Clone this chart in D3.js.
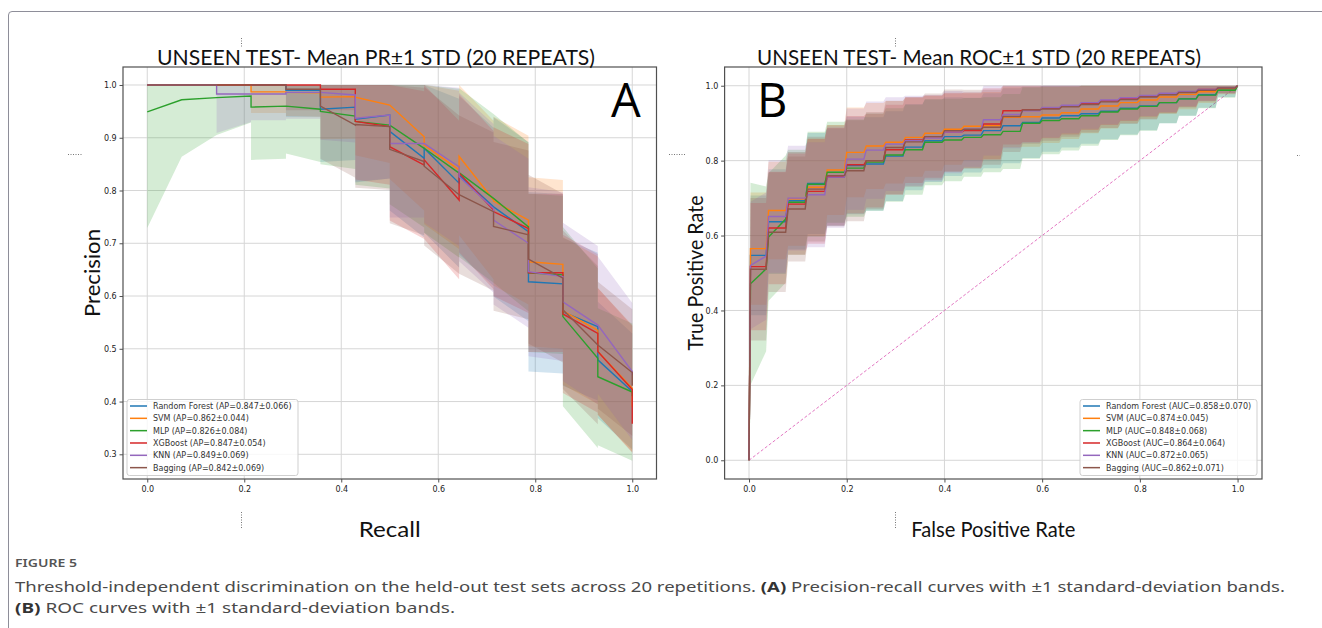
<!DOCTYPE html>
<html>
<head>
<meta charset="utf-8">
<script src="https://cdn.jsdelivr.net/npm/d3@7"></script>
<style>
  body { margin: 0; background: #fff; }
</style>
</head>
<body>
<div id="container"></div>
<script>
// ---- data ----
const models = ["Random Forest", "SVM", "MLP", "XGBoost", "KNN", "Bagging"];
const colors = ["#1f77b4", "#ff7f0e", "#2ca02c", "#d62728", "#9467bd", "#8c564b"];
const apText = ["AP=0.847±0.066", "AP=0.862±0.044", "AP=0.826±0.084", "AP=0.847±0.054", "AP=0.849±0.069", "AP=0.842±0.069"];
const aucText = ["AUC=0.858±0.070", "AUC=0.874±0.045", "AUC=0.848±0.068", "AUC=0.864±0.064", "AUC=0.872±0.065", "AUC=0.862±0.071"];

const tickX = [0, 0.2, 0.4, 0.6, 0.8, 1.0];
const tickPR = [0.3, 0.4, 0.5, 0.6, 0.7, 0.8, 0.9, 1.0];
const tickROC = [0, 0.2, 0.4, 0.6, 0.8, 1.0];

// PR: recall breakpoints (14 positives), mean precision per segment [start, end], std per segment
const prRecall = [0, 0.071, 0.143, 0.214, 0.286, 0.357, 0.429, 0.5, 0.571, 0.643, 0.714, 0.786, 0.857, 0.929, 1.0];
const prRF  = [1, 1, 1, 1, 0.99, [0.954, 0.958], [0.935, 0.943], [0.912, 0.861], [0.88, 0.814], [0.829, 0.769], [0.769, 0.722], [0.627, 0.623], [0.57, 0.542], [0.479, 0.419]];
const prSVM = [1, 1, 1, 0.987, [0.986, 0.985], [0.977, 0.978], [0.977, 0.962], [0.962, 0.902], [0.886, 0.839], [0.865, 0.782], [0.78, 0.744], [0.665, 0.66], [0.572, 0.535], [0.495, 0.425]];
const prMLP = [[0.949, 0.972], [0.972, 0.976], [0.976, 0.979], [0.958, 0.96], [0.96, 0.954], [0.95, 0.941], [0.931, 0.924], [0.924, 0.88], [0.88, 0.833], [0.834, 0.785], [0.785, 0.731], [0.644, 0.64], [0.561, 0.482], [0.447, 0.418]];
const prXGB = [1, 1, 1, 1, 1, 0.992, [0.931, 0.921], [0.883, 0.848], [0.858, 0.782], [0.833, 0.763], [0.76, 0.728], [0.644, 0.644], [0.566, 0.529], [0.495, 0.423]];
const prKNN = [1, 1, 0.983, 0.983, 0.986, [0.986, 0.981], [0.937, 0.943], [0.889, 0.889], [0.889, 0.845], [0.826, 0.766], [0.744, 0.7], [0.646, 0.637], [0.589, 0.545], [0.545, 0.457]];
const prBAG = [1, 1, 1, 1, 0.992, [0.96, 0.924], [0.925, 0.921], [0.878, 0.855], [0.846, 0.792], [0.792, 0.76], [0.732, 0.716], [0.67, 0.634], [0.574, 0.507], [0.507, 0.455]];
const prEnd = [0.415, 0.39, 0.41, 0.358, 0.45, 0.43];

const prStdRF  = [0, 0, 0, 0, 0.05, 0.1, 0.12, 0.15, 0.16, 0.15, 0.17, 0.17, 0.14, 0.11];
const prStdSVM = [0, 0, 0, 0.04, 0.045, 0.08, 0.11, 0.14, 0.15, 0.15, 0.16, 0.16, 0.14, 0.12];
const prStdMLP = [[0.22, 0.108], [0.108, 0.071], [0.071, 0.05], 0.1, [0.09, 0.1], 0.1, 0.12, 0.15, 0.16, 0.16, 0.16, 0.15, 0.17, 0.13];
const prStdXGB = [0, 0, 0, 0, 0, 0.04, 0.11, 0.14, 0.15, 0.15, 0.16, 0.15, 0.15, 0.12];
const prStdKNN = [0, 0, [0.074, 0.053], 0.05, 0.05, 0.09, 0.12, 0.14, 0.15, 0.16, 0.16, 0.16, 0.15, 0.13];
const prStdBAG = [0, 0, 0, 0, 0.04, 0.1, 0.12, 0.14, 0.15, 0.15, 0.16, 0.16, 0.15, 0.12];
const prStdEnd = [0.08, 0.08, 0.1, 0.08, 0.1, 0.09];

// ROC: false positive rate steps, mean TPR level per step, std per step
const rocSteps = [0.04, 0.08, 0.12, 0.16, 0.2, 0.24, 0.28, 0.32, 0.36, 0.4, 0.44, 0.48, 0.52, 0.56, 0.6, 0.64, 0.68, 0.72, 0.76, 0.8, 0.84, 0.88, 0.92, 0.96];
const rocRF  = [0.547, 0.637, 0.693, 0.739, 0.756, 0.787, 0.791, 0.812, 0.836, 0.853, 0.864, 0.868, 0.88, 0.893, 0.902, 0.914, 0.92, 0.925, 0.932, 0.94, 0.946, 0.955, 0.965, 0.976, 0.99];
const rocSVM = [0.565, 0.667, 0.698, 0.729, 0.775, 0.822, 0.839, 0.849, 0.862, 0.873, 0.884, 0.892, 0.893, 0.916, 0.917, 0.922, 0.928, 0.938, 0.946, 0.955, 0.962, 0.97, 0.977, 0.984, 0.992];
const rocMLP = [[0.471, 0.511], [0.596, 0.644], 0.689, 0.737, 0.769, 0.78, 0.796, 0.815, 0.829, 0.849, 0.855, 0.862, 0.869, 0.878, 0.9, 0.907, 0.912, 0.92, 0.93, 0.938, 0.945, 0.955, 0.965, 0.975, 0.988];
const rocXGB = [0.517, 0.62, 0.684, 0.718, 0.757, 0.789, 0.8, 0.829, 0.855, 0.864, 0.876, 0.88, 0.898, 0.933, 0.935, 0.94, 0.945, 0.952, 0.96, 0.966, 0.972, 0.978, 0.984, 0.99, 0.995];
const rocKNN = [[0.52, 0.545], 0.651, 0.7, 0.709, 0.756, 0.804, 0.828, 0.844, 0.853, 0.86, 0.876, 0.884, 0.909, 0.923, 0.933, 0.942, 0.948, 0.955, 0.962, 0.968, 0.974, 0.98, 0.985, 0.99, 0.995];
const rocBAG = [0.51, 0.609, 0.671, 0.724, 0.76, 0.773, 0.8, 0.835, 0.85, 0.864, 0.88, 0.884, 0.889, 0.918, 0.935, 0.938, 0.944, 0.95, 0.957, 0.963, 0.97, 0.976, 0.982, 0.988, 0.994];

const rocStdRF  = [0.16, 0.14, 0.13, 0.135, 0.13, 0.13, 0.125, 0.12, 0.115, 0.11, 0.105, 0.1, 0.1, 0.1, 0.095, 0.09, 0.085, 0.08, 0.075, 0.07, 0.065, 0.055, 0.045, 0.035, 0.02];
const rocStdSVM = [0.15, 0.13, 0.125, 0.13, 0.12, 0.12, 0.115, 0.11, 0.105, 0.1, 0.095, 0.09, 0.09, 0.08, 0.08, 0.075, 0.07, 0.065, 0.06, 0.055, 0.05, 0.045, 0.04, 0.03, 0.015];
const rocStdMLP = [[0.27, 0.22], 0.17, 0.14, 0.14, 0.135, 0.13, 0.13, 0.125, 0.12, 0.115, 0.11, 0.105, 0.1, 0.1, 0.095, 0.09, 0.085, 0.08, 0.075, 0.07, 0.065, 0.055, 0.045, 0.035, 0.02];
const rocStdXGB = [0.17, 0.15, 0.135, 0.14, 0.13, 0.13, 0.125, 0.12, 0.115, 0.11, 0.105, 0.1, 0.095, 0.09, 0.085, 0.08, 0.075, 0.07, 0.065, 0.06, 0.055, 0.05, 0.04, 0.03, 0.015];
const rocStdKNN = [0.17, 0.15, 0.14, 0.14, 0.135, 0.135, 0.13, 0.125, 0.12, 0.115, 0.11, 0.1, 0.095, 0.09, 0.085, 0.08, 0.075, 0.07, 0.065, 0.06, 0.055, 0.05, 0.04, 0.03, 0.015];
const rocStdBAG = [0.19, 0.16, 0.14, 0.14, 0.135, 0.135, 0.13, 0.125, 0.12, 0.115, 0.11, 0.105, 0.1, 0.095, 0.09, 0.085, 0.08, 0.075, 0.07, 0.065, 0.06, 0.05, 0.04, 0.03, 0.015];

const diagonal = [[0, 0], [1, 1]];

const prMeans = [prRF, prSVM, prMLP, prXGB, prKNN, prBAG];
const prStds = [prStdRF, prStdSVM, prStdMLP, prStdXGB, prStdKNN, prStdBAG];
const rocMeans = [rocRF, rocSVM, rocMLP, rocXGB, rocKNN, rocBAG];
const rocStds = [rocStdRF, rocStdSVM, rocStdMLP, rocStdXGB, rocStdKNN, rocStdBAG];

// ---- helpers ----
function pair(v) { return Array.isArray(v) ? v : [v, v]; }

function prPoints(i) {
  const pts = [];
  prMeans[i].forEach(function (v, k) {
    const m = pair(v), s = pair(prStds[i][k]);
    pts.push({ x: prRecall[k], m: m[0], s: s[0] });
    pts.push({ x: prRecall[k + 1], m: m[1], s: s[1] });
  });
  pts.push({ x: 1, m: prEnd[i], s: prStdEnd[i] });
  return pts;
}

function rocPoints(i) {
  const pts = [{ x: 0, m: 0, s: 0 }];
  rocMeans[i].forEach(function (v, k) {
    const m = pair(v), s = pair(rocStds[i][k]);
    const x0 = k === 0 ? 0.003 : rocSteps[k - 1];
    const x1 = (k < rocSteps.length ? rocSteps[k] : 1) - 0.005;
    pts.push({ x: x0, m: m[0], s: s[0] });
    pts.push({ x: x1, m: m[1], s: s[1] });
  });
  pts.push({ x: 1, m: 1, s: 0 });
  return pts;
}

const svg = d3.select('#container')
  .append('svg')
  .attr('width', 1322)
  .attr('height', 628)
  .style('display', 'block');

// outer frame of the figure
svg.append('path')
  .attr('d', 'M8.5,628 V15 Q8.5,11.5 12,11.5 H1322')
  .attr('fill', 'none')
  .attr('stroke', '#8e8e99')
  .attr('stroke-width', 1);

const TOP = 67, BOTTOM = 479;

function drawPanel(cfg) {
  const g = svg.append('g');
  const x = d3.scaleLinear().domain([-0.05, 1.05]).range([cfg.left, cfg.right]);
  const y = d3.scaleLinear().domain(cfg.ydom).range([BOTTOM, TOP]);

  const clipId = 'clip' + cfg.id;
  svg.append('clipPath').attr('id', clipId)
    .append('rect')
    .attr('x', cfg.left).attr('y', TOP)
    .attr('width', cfg.right - cfg.left).attr('height', BOTTOM - TOP);

  // grid
  g.selectAll('.gx').data(tickX).enter().append('line')
    .attr('x1', d => x(d)).attr('x2', d => x(d))
    .attr('y1', TOP).attr('y2', BOTTOM)
    .attr('stroke', '#d6d6d6').attr('stroke-width', 1);
  g.selectAll('.gy').data(cfg.yticks).enter().append('line')
    .attr('x1', cfg.left).attr('x2', cfg.right)
    .attr('y1', d => y(d)).attr('y2', d => y(d))
    .attr('stroke', '#d6d6d6').attr('stroke-width', 1);

  const plot = g.append('g').attr('clip-path', 'url(#' + clipId + ')');

  if (cfg.diag) {
    plot.append('path')
      .attr('d', d3.line().x(d => x(d[0])).y(d => y(d[1]))(diagonal))
      .attr('fill', 'none')
      .attr('stroke', '#e377c2')
      .attr('stroke-width', 1)
      .attr('stroke-dasharray', '3,2');
  }

  const area = d3.area()
    .x(d => x(d.x))
    .y0(d => y(Math.max(0, d.m - d.s)))
    .y1(d => y(Math.min(1, d.m + d.s)));
  const line = d3.line().x(d => x(d.x)).y(d => y(d.m));

  const series = models.map((m, i) => cfg.points(i));
  series.forEach(function (pts, i) {
    plot.append('path').attr('d', area(pts))
      .attr('fill', colors[i]).attr('fill-opacity', 0.2).attr('stroke', 'none');
  });
  series.forEach(function (pts, i) {
    plot.append('path').attr('d', line(pts))
      .attr('fill', 'none').attr('stroke', colors[i]).attr('stroke-width', 1.4)
      .attr('stroke-linejoin', 'miter');
  });

  // spines
  g.append('rect')
    .attr('x', cfg.left).attr('y', TOP)
    .attr('width', cfg.right - cfg.left).attr('height', BOTTOM - TOP)
    .attr('fill', 'none').attr('stroke', '#505050').attr('stroke-width', 1.2);

  // axes
  const ax = g.append('g').attr('transform', 'translate(0,' + BOTTOM + ')')
    .call(d3.axisBottom(x).tickValues(tickX).tickFormat(d3.format('.1f')).tickSize(3.5).tickPadding(3.5));
  const ay = g.append('g').attr('transform', 'translate(' + cfg.left + ',0)')
    .call(d3.axisLeft(y).tickValues(cfg.yticks).tickFormat(d3.format('.1f')).tickSize(3.5).tickPadding(2.8));
  [ax, ay].forEach(function (a) {
    a.select('.domain').remove();
    a.selectAll('line').attr('stroke', '#505050').attr('stroke-width', 1);
    a.selectAll('text')
      .attr('fill', '#222')
      .style('font-family', 'DejaVu Sans, sans-serif')
      .style('font-size', '8px');
  });

  // title
  svg.append('text')
    .attr('x', cfg.titleX).attr('y', 65)
    .attr('textLength', cfg.titleW).attr('lengthAdjust', 'spacingAndGlyphs')
    .style('font-family', 'Lato, Open Sans, sans-serif')
    .style('font-size', '22px')
    .attr('fill', '#111')
    .text(cfg.title);

  // panel letter
  svg.append('text')
    .attr('x', cfg.letterX).attr('y', 117)
    .style('font-family', 'Open Sans, sans-serif')
    .style('font-size', '47px')
    .attr('fill', '#000')
    .text(cfg.letter);

  // axis labels
  svg.append('text')
    .attr('x', (cfg.left + cfg.right) / 2).attr('y', 537)
    .attr('text-anchor', 'middle')
    .attr('textLength', cfg.xlabW).attr('lengthAdjust', 'spacingAndGlyphs')
    .style('font-family', 'Lato, Open Sans, sans-serif')
    .style('font-size', '21px')
    .attr('fill', '#111')
    .text(cfg.xlab);
  svg.append('text')
    .attr('transform', 'translate(' + cfg.ylabX + ',' + ((TOP + BOTTOM) / 2) + ') rotate(-90)')
    .attr('text-anchor', 'middle')
    .attr('textLength', cfg.ylabW).attr('lengthAdjust', 'spacingAndGlyphs')
    .style('font-family', 'Lato, Open Sans, sans-serif')
    .style('font-size', '21px')
    .attr('fill', '#111')
    .text(cfg.ylab);

  // legend
  const lg = svg.append('g');
  lg.append('rect')
    .attr('x', cfg.legX).attr('y', 399.5)
    .attr('width', cfg.legW).attr('height', 76)
    .attr('rx', 2.5)
    .attr('fill', '#fff').attr('fill-opacity', 0.8)
    .attr('stroke', '#cfcfcf').attr('stroke-width', 1);
  models.forEach(function (m, i) {
    const cy = 406 + i * 12.33;
    lg.append('line')
      .attr('x1', cfg.legX + 3).attr('x2', cfg.legX + 20)
      .attr('y1', cy).attr('y2', cy)
      .attr('stroke', colors[i]).attr('stroke-width', 1.5);
    lg.append('text')
      .attr('x', cfg.legX + 26).attr('y', cy + 2.9)
      .style('font-family', 'DejaVu Sans, sans-serif')
      .style('font-size', '8px')
      .attr('fill', '#333')
      .text(m + ' (' + cfg.legText[i] + ')');
  });
}

drawPanel({
  id: 'A', left: 123, right: 656.5, ydom: [0.2532, 1.0341], yticks: tickPR,
  points: prPoints, diag: false,
  title: 'UNSEEN TEST- Mean PR±1 STD (20 REPEATS)', titleX: 157, titleW: 438,
  letter: 'A', letterX: 611,
  xlab: 'Recall', xlabW: 62, ylab: 'Precision', ylabX: 100, ylabW: 88,
  legX: 127, legW: 171, legText: apText
});

drawPanel({
  id: 'B', left: 724.6, right: 1262, ydom: [-0.05, 1.05], yticks: tickROC,
  points: rocPoints, diag: true,
  title: 'UNSEEN TEST- Mean ROC±1 STD (20 REPEATS)', titleX: 757, titleW: 444,
  letter: 'B', letterX: 757,
  xlab: 'False Positive Rate', xlabW: 164, ylab: 'True Positive Rate', ylabX: 703, ylabW: 155,
  legX: 1080, legW: 177, legText: aucText
});

// stray dotted marks from the source layout
const marks = [
  [241.5, 38, 241.5, 47], [241.5, 512, 241.5, 529],
  [895.5, 38, 895.5, 47], [895.5, 512, 895.5, 529],
  [68, 154.5, 83, 154.5], [669, 154.5, 685, 154.5], [1297, 155.5, 1300, 155.5]
];
svg.selectAll('.mark').data(marks).enter().append('line')
  .attr('x1', d => d[0]).attr('y1', d => d[1]).attr('x2', d => d[2]).attr('y2', d => d[3])
  .attr('stroke', '#777').attr('stroke-width', 1).attr('stroke-dasharray', '1,1.5');

// caption
svg.append('text')
  .attr('x', 15).attr('y', 567)
  .style('font-family', 'Noto Sans, sans-serif')
  .style('font-size', '11px')
  .style('font-weight', '600')
  .attr('textLength', 62).attr('lengthAdjust', 'spacingAndGlyphs')
  .attr('fill', '#555')
  .text('FIGURE 5');

const cap1 = svg.append('text')
  .attr('x', 15).attr('y', 592)
  .attr('textLength', 1270).attr('lengthAdjust', 'spacingAndGlyphs')
  .style('font-family', 'Noto Sans, sans-serif')
  .style('font-size', '15px')
  .attr('fill', '#4a4a4a');
cap1.append('tspan').text('Threshold-independent discrimination on the held-out test sets across 20 repetitions. ');
cap1.append('tspan').style('font-weight', 'bold').attr('fill', '#333').text('(A)');
cap1.append('tspan').text(' Precision-recall curves with ±1 standard-deviation bands.');

const cap2 = svg.append('text')
  .attr('x', 15).attr('y', 613)
  .attr('textLength', 440).attr('lengthAdjust', 'spacingAndGlyphs')
  .style('font-family', 'Noto Sans, sans-serif')
  .style('font-size', '15px')
  .attr('fill', '#4a4a4a');
cap2.append('tspan').style('font-weight', 'bold').attr('fill', '#333').text('(B)');
cap2.append('tspan').text(' ROC curves with ±1 standard-deviation bands.');
</script>
</body>
</html>
